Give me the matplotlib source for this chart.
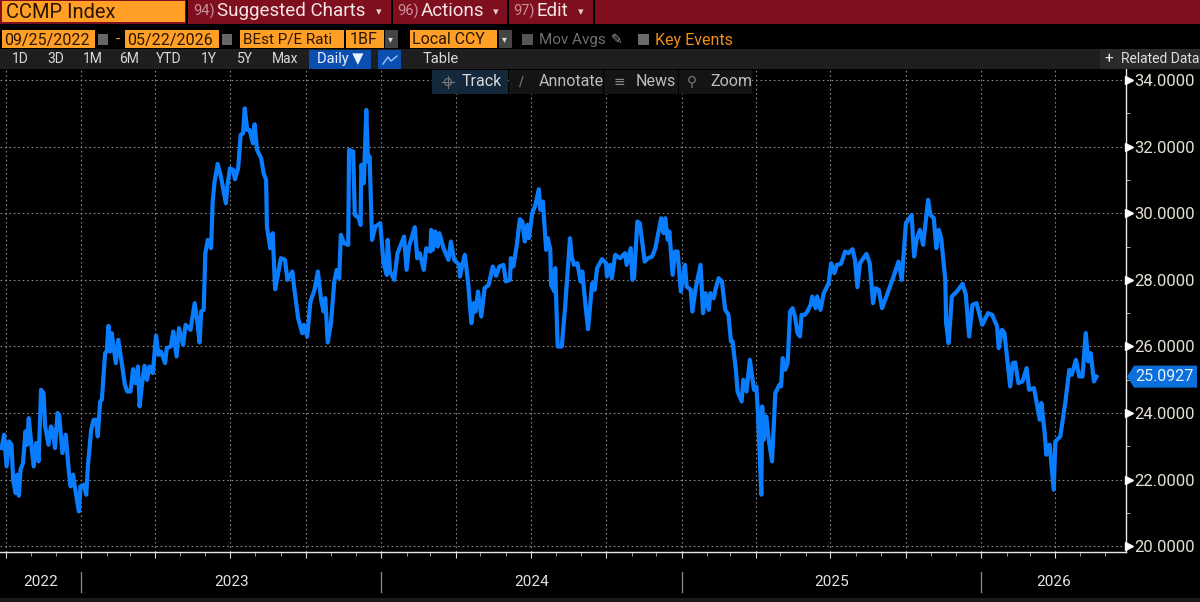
import numpy as np
import matplotlib
matplotlib.use('Agg')
import matplotlib.dates as mdates
from matplotlib import pyplot as plt, patches, transforms

plt.rcParams['font.family'] = ['Roboto', 'DejaVu Sans']

start_date = np.datetime64('2022-09-25')
end_axis = np.datetime64('2026-06-26')

# days after the start date
days = [1, 4, 7, 10, 13, 15, 18, 20, 22, 24, 27, 30, 32, 34, 37, 40, 43, 46, 49, 52, 54, 58, 61, 63, 66, 69, 71, 75,
        79, 83, 85, 88, 91, 95, 97, 101, 104, 106, 110, 113, 116, 118, 121, 123, 127, 129, 131, 133, 135, 140, 143,
        147, 151, 154, 158, 161, 164, 167, 169, 172, 175, 178, 181, 185, 189, 192, 195, 200, 202, 207, 210, 214, 217,
        222, 225, 231, 236, 239, 242, 244, 247, 249, 252, 256, 258, 260, 264, 268, 271, 274, 276, 279, 283, 285, 289,
        292, 295, 297, 300, 303, 307, 309, 312, 317, 320, 323, 324, 328, 331, 334, 337, 341, 346, 349, 355, 357, 362,
        367, 369, 373, 377, 382, 386, 390, 393, 395, 398, 402, 406, 409, 412, 414, 418, 423, 424, 429, 431, 436, 438,
        439, 442, 445, 447, 449, 452, 456, 462,
        466, 470, 471, 474, 479, 483, 491, 494, 497, 504, 507, 510, 515, 518, 523, 524, 526, 529, 532, 534, 539, 545,
        548, 552, 558, 559, 562, 565, 569, 573, 576, 578, 581, 585, 589, 594, 599, 603, 607, 612, 615, 620, 621, 624,
        628, 632, 635, 638, 641, 643, 647, 651, 655, 657, 660, 664, 666, 669, 670, 674, 675, 678, 683, 687, 693, 695,
        698, 702, 706, 708, 712, 715, 720, 723, 726, 732, 737, 738, 742, 744, 748, 754, 760, 762, 767, 769, 771, 775,
        778, 784, 788, 793, 797, 804, 807, 809, 812, 814, 818, 821, 824, 828, 833, 835, 840, 842, 846, 852, 855, 858,
        862, 864, 868, 870, 874, 878, 882, 886, 889, 891, 895, 897, 902, 904, 908, 912, 917, 920, 922, 926, 927, 929,
        932, 935, 939, 943, 948,
        950, 952, 955, 958, 961, 964, 967, 970, 973, 975, 979, 982, 986, 988, 992, 994, 998, 1002, 1008, 1011, 1015,
        1018, 1023, 1028, 1032, 1037, 1040, 1043, 1046, 1054, 1058, 1062, 1065, 1069, 1073, 1079, 1087, 1093, 1097,
        1102, 1109, 1112, 1115, 1119, 1123, 1129, 1132, 1136, 1139, 1142, 1145, 1150, 1151, 1154, 1158, 1164, 1171,
        1175, 1179, 1183, 1188, 1195, 1202, 1207, 1213, 1215, 1219, 1222, 1229, 1232, 1235, 1239, 1244, 1249, 1252,
        1258, 1261, 1265, 1267, 1271, 1273, 1277, 1282, 1284, 1290, 1296, 1301, 1304, 1309, 1313, 1317, 1321, 1324,
        1327, 1331, 1334]

pe_ratio = [22.95, 23.35, 22.4, 23.15, 23.05, 22.0, 21.6, 22.15, 21.52, 22.3, 22.5, 23.45, 23.05, 23.85, 23.1, 22.4,
            23.1, 22.55, 24.7, 24.6, 23.6, 23.05, 23.6, 23.5, 22.95, 24.0, 23.95, 22.8,
            23.35, 22.2, 21.8, 22.15, 21.65, 21.05, 21.8, 21.85, 21.55, 22.4, 23.5, 23.8, 23.8, 23.3, 24.35, 24.4,
            25.8, 25.85, 26.62, 25.85, 26.4, 25.5, 26.2,
            25.55, 24.85, 24.65, 24.65, 25.32, 24.9, 25.4, 24.2, 24.9, 25.42, 25.0, 25.4, 25.2, 26.32, 25.75, 25.85,
            25.5, 25.95, 26.0, 26.45, 25.7, 26.55,
            26.05, 26.65, 26.5, 27.3, 26.8, 26.12, 27.05, 27.1, 28.8, 29.2, 28.95, 30.35, 30.9, 31.48, 31.1, 30.7,
            30.3, 30.85, 31.35, 31.3, 31.02, 31.35,
            32.35, 32.4, 33.15, 32.5, 32.5, 32.1, 32.67, 31.9, 31.65, 31.2, 31.0, 29.6, 28.95, 29.4, 27.72, 28.1,
            28.65, 28.6, 28.0, 28.25, 27.8, 26.85,
            26.4, 26.65, 26.3, 27.35, 27.7, 28.25, 27.4, 27.05, 27.45, 26.12, 26.7, 27.95, 28.3, 28.05, 29.35, 29.1,
            29.05, 31.9, 31.85, 29.95, 29.85, 29.65,
            31.45, 30.9, 33.1, 31.55, 31.7, 29.2, 29.6, 29.7,
            28.5, 28.15, 29.2, 28.25, 28.0, 28.8, 29.3, 28.3, 29.0, 29.58, 28.65, 28.8, 28.3, 28.95, 28.85, 29.5,
            28.9, 29.45, 29.0, 29.4, 28.95, 28.6,
            29.15, 28.6, 28.45, 28.1, 28.45, 28.75, 27.9, 26.7, 27.3, 27.05, 27.65, 26.9, 27.75, 27.85, 28.4, 28.12,
            28.4, 28.45, 27.95, 28.0, 28.65, 28.4,
            29.0, 29.82, 29.75, 29.15, 29.65, 29.25, 30.0, 30.25, 30.72, 30.1, 30.35, 28.9, 29.25, 28.9, 27.85, 27.65,
            28.35, 26.0, 26.0, 27.15, 29.25, 28.7,
            28.45, 28.5, 27.95, 28.25, 27.2, 26.52, 27.9, 27.7, 28.35, 28.62, 28.5, 28.1, 28.45, 28.05, 28.75, 28.65,
            28.8, 28.45, 28.95, 28.0, 28.05, 29.75,
            29.7, 28.55, 28.65, 28.7, 28.95, 29.85, 29.4, 29.85, 29.2, 29.45, 28.15, 28.85, 28.85, 27.65, 28.45, 27.8,
            27.7, 27.05, 27.75, 28.45, 27.0, 27.6,
            27.1, 27.6, 27.45, 27.7, 28.05, 27.95, 27.1, 26.95, 26.15, 26.15, 25.3, 24.65, 24.35, 25.0, 24.65, 25.6,
            24.7, 24.8, 23.9, 21.55, 24.2, 23.2,
            23.9, 23.2, 22.55, 24.6, 24.85,
            24.8, 25.65, 25.3, 25.5, 27.05, 27.15, 26.9, 26.4, 26.3, 26.95, 26.95, 27.05, 27.25, 27.5, 27.15, 27.5,
            27.1, 27.6, 27.9, 28.5, 28.2,
            28.45, 28.48, 28.85, 28.8, 28.92, 28.6, 27.78, 28.5, 28.78, 28.5, 27.3, 27.75, 27.7, 27.15, 27.55, 28.1,
            28.55, 28.0,
            29.7, 29.95, 28.7, 29.2, 29.5, 29.05, 30.4, 29.95, 29.85, 28.95, 29.5, 29.25, 28.0, 26.7, 26.1, 27.5,
            27.65, 27.88,
            27.55, 26.3, 27.25, 27.3, 26.65, 27.0, 26.95, 26.6, 25.95, 26.5, 26.4, 24.8, 25.5, 25.52, 24.9, 24.95,
            25.35, 24.7,
            24.75, 24.35, 23.8, 24.3, 23.4, 22.75, 23.05, 21.7, 23.15, 23.3, 24.3, 25.3, 25.15, 25.6, 25.1, 25.1,
            26.4, 25.55,
            25.8, 24.95, 25.0927]

y_ticks = [20, 22, 24, 26, 28, 30, 32, 34]
y_minor = [21, 23, 25, 27, 29, 31, 33]
years = ['2022', '2023', '2024', '2025', '2026']
year_edges = ['2023-01-01', '2024-01-01', '2025-01-01', '2026-01-01']
periods = ['1D', '3D', '1M', '6M', 'YTD', '1Y', '5Y', 'Max']
period_x = [20, 56, 93, 129, 169, 209, 245, 285]

dates = start_date + np.array(days).astype('timedelta64[D]')
W, H = 1200, 602
fig = plt.figure(figsize=(W / 100, H / 100), dpi=100, facecolor='black')

# chart area runs from x=0 to 1126 and y=68 to 552 in picture pixels
ax = fig.add_axes([0, 1 - 552 / H, 1126 / W, (552 - 68) / H], facecolor='black')
ax.plot(dates, pe_ratio, color='#0a7dff', lw=3.0, solid_joinstyle='round', zorder=3)
ax.set_xlim(np.datetime64('2022-09-24'), end_axis)
ax.set_ylim(19.83, 34.36)

ax.spines[['top', 'left']].set_visible(False)
ax.spines[['right', 'bottom']].set_color('#e8e8e8')
ax.spines[['right', 'bottom']].set_linewidth(1.0)

ax.yaxis.tick_right()
ax.set_yticks(y_ticks)
ax.set_yticklabels([f'{v:.4f}' for v in y_ticks])
ax.set_yticks(y_minor, minor=True)
ax.tick_params(axis='y', which='major', length=0, pad=6, labelcolor='#e4e0d4', labelsize=12)
ax.tick_params(axis='y', which='minor', length=3, color='#cccccc', direction='out')
ax.plot([1.003] * len(y_ticks), y_ticks, ls='none', marker='>', ms=6, color='white',
        transform=ax.get_yaxis_transform(), clip_on=False, zorder=4)

ax.xaxis.set_major_locator(mdates.MonthLocator(bymonth=[1, 4, 7, 10]))
ax.xaxis.set_minor_locator(mdates.MonthLocator())
ax.xaxis.set_major_formatter(plt.NullFormatter())
ax.tick_params(axis='x', which='major', length=4, color='#dddddd', direction='out')
ax.tick_params(axis='x', which='minor', length=3, color='#bbbbbb', direction='out')

ax.grid(True, which='major', color='#858585', ls=(0, (1.5, 2.5)), lw=0.8, zorder=1)
ax.set_axisbelow(True)

# year band under the axis
band = transforms.blended_transform_factory(ax.transData, fig.transFigure)
edges = [ax.get_xlim()[0]] + [mdates.date2num(np.datetime64(d)) for d in year_edges] + [ax.get_xlim()[1]]
for i, label_text in enumerate(years):
    ax.text((edges[i] + edges[i + 1]) / 2, 1 - 582 / H, label_text, transform=band, ha='center', va='center',
            color='#e4e4e4', fontsize=11, clip_on=False)
for e in edges[1:-1]:
    ax.plot([e, e], [1 - 572 / H, 1 - 592 / H], transform=band, color='#8a8a8a', lw=0.9, clip_on=False)

# terminal chrome, picture pixel coordinates
ui = fig.add_axes([0, 0, 1, 1], facecolor='none')
ui.set_xlim(0, W)
ui.set_ylim(H, 0)
ui.axis('off')


def box(x0, y0, x1, y1, color, **kw):
    ui.add_patch(patches.Rectangle((x0, y0), x1 - x0, y1 - y0, facecolor=color, edgecolor='none', **kw))


def label(x, y, s, color='#e8e8e8', size=11, ha='left'):
    ui.text(x, y, s, color=color, fontsize=size, ha=ha, va='center')


ORANGE = '#ff9f26'
box(0, 0, W, 24, '#7f0f1e')
box(2, 1, 185, 22, ORANGE)
label(6, 12, 'CCMP Index', '#2a1500', 14.5)
for x in [186, 391, 507, 593]:
    box(x, 0, x + 1.5, 24, '#000000')
label(193, 11, '94)', '#c9929a', 10.5)
label(217, 11, 'Suggested Charts', '#f2e6e6', 13.5)
label(376, 12, '\u25be', '#e8d0d0', 8)
label(397, 11, '96)', '#c9929a', 10.5)
label(421, 11, 'Actions', '#f2e6e6', 13.5)
label(493, 12, '\u25be', '#e8d0d0', 8)
label(513, 11, '97)', '#c9929a', 10.5)
label(537, 11, 'Edit', '#f2e6e6', 13.5)
label(578, 12, '\u25be', '#e8d0d0', 8)

box(2, 30, 95, 48, ORANGE)
label(4, 40, '09/25/2022', '#2a1500', 11.5)
box(98, 34, 108, 45, '#666666')
label(116, 40, '-', ORANGE, 11)
box(125, 30, 219, 48, ORANGE)
label(127, 40, '05/22/2026', '#2a1500', 11.5)
box(222, 34, 232, 45, '#666666')
box(240, 30, 344, 48, ORANGE)
label(243, 40, 'BEst P/E Rati', '#2a1500', 11)
box(346, 30, 384, 48, ORANGE)
label(350, 40, '1BF', '#2a1500', 11.5)
box(385, 30, 398, 48, '#444444')
label(388, 39, '\u25be', '#dddddd', 7)
box(410, 30, 497, 48, ORANGE)
label(412, 40, 'Local CCY', '#2a1500', 11.5)
box(499, 30, 512, 48, '#444444')
label(502, 39, '\u25be', '#dddddd', 7)
box(522, 34, 533, 45, '#555555')
label(539, 40, 'Mov Avgs', '#6f6f6f', 11)
label(611, 40, '\u270e', '#999999', 10)
box(638, 34, 649, 45, '#6a6a6a')
label(655, 40, 'Key Events', '#f08c1a', 11.5)

box(0, 49, W, 69, '#1e1e1e')
for x, s in zip(period_x, periods):
    label(x, 59, s, '#d8d8d8', 10, ha='center')
box(309, 50, 371, 69, '#0a4fb0')
label(340, 59, 'Daily \u25bc', '#eaf2ff', 10.5, ha='center')
box(378, 50, 401, 69, '#0a4fb0')
ui.plot([383, 388, 391, 397], [64, 57, 61, 56], color='#9cc4ff', lw=1)
label(441, 59, 'Table', '#d8d8d8', 10.5, ha='center')
box(1100, 49, W, 69, '#2a2a2a')
label(1104, 59, '+', '#eeeeee', 11)
label(1121, 59, 'Related Data', '#dddddd', 10)

# toolbar over the plot
box(432, 70, 508, 94, '#14283c')
box(509, 70, 603, 94, '#141414')
box(604, 70, 678, 94, '#141414')
box(679, 70, 752, 94, '#141414')
# crosshair icon of the Track button
ui.add_patch(patches.Circle((448, 82), 3.5, facecolor='none', edgecolor='#777777', lw=0.8))
ui.plot([442, 454], [82, 82], color='#777777', lw=0.8)
ui.plot([448, 448], [76, 88], color='#777777', lw=0.8)
label(462, 82, 'Track', '#d8d8d8', 11.5)
label(519, 82, '\u2215', '#777777', 10)
label(539, 82, 'Annotate', '#bdbdbd', 11.5)
label(614, 82, '\u2261', '#888888', 10)
label(636, 82, 'News', '#bdbdbd', 11.5)
label(687, 82, '\u26b2', '#777777', 10)
label(710, 82, 'Zoom', '#bdbdbd', 11.5)

# last value tag
tag_y = 80 + (34 - pe_ratio[-1]) * 33.3
ui.add_patch(patches.Polygon([(1127, tag_y), (1134, tag_y - 11), (1197, tag_y - 11), (1197, tag_y + 11),
                              (1134, tag_y + 11)], facecolor='#0b6fdc', edgecolor='none'))
label(1135, tag_y, f'{pe_ratio[-1]:.4f}', '#e6f2ff', 11.5)

box(0, 598, W, 602, '#1a1a1a')

fig.savefig('out.png', dpi=100, facecolor='black')
